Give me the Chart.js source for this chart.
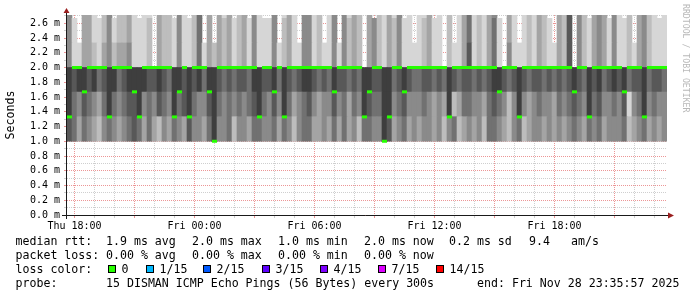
<!DOCTYPE html>
<html>
<head>
<meta charset="utf-8">
<title>smokeping</title>
<script src="https://cdn.jsdelivr.net/npm/chart.js@4/dist/chart.umd.min.js"></script>
<style>
  html, body { margin: 0; padding: 0; background: #fff; }
  #wrap { position: relative; width: 697px; height: 297px; overflow: hidden; }
  #chart { position: absolute; left: 0; top: 0; }
  .txt { position: absolute; font: 11.6px 'DejaVu Sans Mono', monospace; line-height: 14px; white-space: pre; color: #000; }
  .box { position: absolute; width: 8px; height: 8px; box-sizing: border-box; border: 1px solid #000; }
  #credit { position: absolute; left: 681px; top: 4px; writing-mode: vertical-rl; font: 8.2px 'DejaVu Sans Mono', monospace; line-height: 10px; color: #b8b8b8; white-space: pre; }
</style>
</head>
<body>
<div id="wrap">
  <canvas id="chart" width="697" height="297"></canvas>
  <div id="credit">RRDTOOL / TOBI OETIKER</div>
  <div id="legend"></div>
</div>
<script>
// 15 min slots, first slot centred on Thu 17:45
const days = ['Thu', 'Fri']
const firstSlotMinute = 17 * 60 + 45
const slotMinutes = 15

// rtt bands in ms, pings come in thirds of a ms
const bandEdges = [1.0, 1.333, 1.667, 2.0, 2.333, 2.667, 3.0]

// smoke depth per slot (0 = no ping there, 7 = innermost pair), 10 slots per string
const smoke10 = ['6535432454', '3456535324', '3543644357', '4452443554', '4535424553', '3435353425',
  '5447634534', '3443424523', '4342554324', '5234434343', '4543545344', '4523453434']
const smoke13 = ['7546543575', '4566745465', '4756754467', '5454545675', '4647534564', '3446453547',
  '6557745644', '4543437235', '5443565424', '7434544354', '5654756445', '4614574544']
const smoke17 = ['7677675677', '5677776676', '5776767577', '6565665776', '6757656776', '5657665657',
  '7667756765', '5665657656', '6565677656', '7656656565', '6765767567', '6756675665']
const smoke20 = ['4113321342', '3341112032', '2141125132', '3231231411', '1412311441', '2114142320',
  '3421324111', '1231102113', '6121351041', '1121321132', '6042134314', '1121342111']
const smoke23 = ['4103311241', '2231112032', '2141125030', '3231231411', '1402310441', '2014042320',
  '3421324110', '1231102013', '5121351031', '0121321032', '6042134314', '1120342111']
const smoke27 = ['4003310240', '2231011032', '2041025030', '3130230410', '0401310441', '2014041320',
  '3021314010', '1130102013', '5121340031', '0121320032', '6042034304', '1020342101']

// median rtt per slot (ms)
const median = [
  1.33, 2, 2, 1.67, 2, 2, 2, 2, 1.33, 2,
  2, 2, 2, 1.67, 1.33, 2, 2, 2, 2, 2,
  2, 1.33, 1.67, 2, 1.33, 2, 2, 2, 1.67, 1,
  2, 2, 2, 2, 2, 2, 2, 2, 1.33, 2,
  2, 1.67, 2, 1.33, 2, 2, 2, 2, 2, 2,
  2, 2, 2, 1.67, 2, 2, 2, 2, 2, 1.33,
  1.67, 2, 2, 1, 1.33, 2, 2, 1.67, 2, 2,
  2, 2, 2, 2, 2, 2, 1.33, 2, 2, 2,
  2, 2, 2, 2, 2, 2, 1.67, 2, 2, 2,
  1.33, 2, 2, 2, 2, 2, 2, 2, 2, 2,
  2, 1.67, 2, 2, 1.33, 2, 2, 2, 2, 2,
  2, 1.67, 2, 2, 2, 1.33, 2, 2, 2, 2,
]

const yTop = 2.7
const yStep = 0.1

const medianStats = ['1.9 ms avg', '2.0 ms max', '1.0 ms min', '2.0 ms now', '0.2 ms sd', '9.4', 'am/s']
const lossStats = ['0.00 % avg', '0.00 % max', '0.00 % min', '0.00 % now']
const lossLabels = ['0', '1/15', '2/15', '3/15', '4/15', '7/15', '14/15']
const lossColors = ['#26ff00', '#00b8ff', '#0059ff', '#5e00ff', '#7e00ff', '#dd00ff', '#ff0000']
const probeText = '15 DISMAN ICMP Echo Pings (56 Bytes) every 300s'
const endText = 'end: Fri Nov 28 23:35:57 2025'

// layout
const statX = [106, 192, 278, 364, 449, 529, 571]
const swatchX = [108, 146, 203, 262, 320, 378, 436]
const mono = 'DejaVu Sans Mono'
const grays = [255, 214, 189, 164, 138, 113, 88, 62]
const minorGrid = 'rgba(191,191,191,0.75)'
const majorGrid = 'rgba(230,115,115,0.75)'

const slotMinute = i => firstSlotMinute + i * slotMinutes

const labels = median.map((_, i) => {
  const m = slotMinute(i)
  const hh = String(Math.floor(m / 60) % 24).padStart(2, '0')
  const mm = String(m % 60).padStart(2, '0')
  return `${days[Math.floor(m / 1440)]} ${hh}:${mm}`
})

const smokeSets = [smoke10, smoke13, smoke17, smoke20, smoke23, smoke27].map((band, b) => {
  const depth = band.join('').split('').map(Number)
  return {
    type: 'bar',
    data: depth.map(d => (d > 0 ? [bandEdges[b], bandEdges[b + 1]] : null)),
    backgroundColor: depth.map(d => `rgb(${grays[d]},${grays[d]},${grays[d]})`),
    grouped: false,
    barPercentage: 1,
    categoryPercentage: 1,
    borderWidth: 0,
    clip: 0,
  }
})

const medianSet = {
  type: 'line',
  data: median,
  showLine: false,
  pointStyle: 'line',
  pointRadius: 2.5,
  pointHoverRadius: 2.5,
  pointBorderWidth: 3,
  pointBorderColor: lossColors[0],
  pointBackgroundColor: lossColors[0],
  clip: 0,
}

const axisArrows = {
  id: 'axisArrows',
  afterDraw(chart) {
    const { ctx, chartArea: a } = chart
    ctx.save()
    ctx.strokeStyle = '#1a1a1a'
    ctx.lineWidth = 1
    ctx.beginPath()
    ctx.moveTo(a.left - 5, a.bottom + 0.5)
    ctx.lineTo(a.right + 2, a.bottom + 0.5)
    ctx.moveTo(a.left - 0.5, a.bottom + 4)
    ctx.lineTo(a.left - 0.5, a.top - 2)
    ctx.stroke()
    ctx.fillStyle = '#9a1f1f'
    ctx.beginPath()
    ctx.moveTo(a.right + 7, a.bottom + 0.5)
    ctx.lineTo(a.right + 1, a.bottom - 2.5)
    ctx.lineTo(a.right + 1, a.bottom + 3.5)
    ctx.closePath()
    ctx.moveTo(a.left - 0.5, a.top - 7)
    ctx.lineTo(a.left - 3.5, a.top - 2)
    ctx.lineTo(a.left + 2.5, a.top - 2)
    ctx.closePath()
    ctx.fill()
    ctx.restore()
  },
}

Chart.defaults.font.family = mono

new Chart(document.getElementById('chart'), {
  type: 'bar',
  data: { labels, datasets: [medianSet, ...smokeSets] },
  options: {
    responsive: false,
    animation: false,
    devicePixelRatio: 1,
    events: [],
    layout: { padding: { top: 15, right: 30, left: 0, bottom: 0 } },
    plugins: { legend: { display: false }, tooltip: { enabled: false } },
    scales: {
      x: {
        type: 'category',
        offset: true,
        z: 1,
        grid: {
          offset: false,
          tickLength: 3,
          color: c => (slotMinute(c.tick.value) % 180 === 0 ? majorGrid : minorGrid),
        },
        border: { display: false, dash: [1, 1] },
        ticks: {
          autoSkip: false,
          maxRotation: 0,
          padding: 2,
          color: '#000',
          font: { family: mono, size: 10 },
          callback: v => (slotMinute(v) % 360 === 0 ? labels[v] : ''),
        },
        afterBuildTicks: s => { s.ticks = s.ticks.filter(t => slotMinute(t.value) % 60 === 0) },
        afterFit: s => { s.height = 82 },
      },
      y: {
        min: 0,
        max: 2.712,
        z: 1,
        grid: {
          tickLength: 3,
          color: c => (Math.round(c.tick.value * 10) % 2 === 0 ? majorGrid : minorGrid),
        },
        border: { display: false, dash: [1, 1] },
        ticks: {
          autoSkip: false,
          padding: 4,
          color: '#000',
          font: { family: mono, size: 10 },
          callback: v => (Math.round(v * 10) % 2 === 0 ? v.toFixed(1) + ' m' : ''),
        },
        afterBuildTicks: s => {
          const ticks = []
          for (let k = 0; k * yStep <= yTop + 1e-9; k++) ticks.push({ value: Math.round(k * yStep * 10) / 10 })
          s.ticks = ticks
        },
        title: {
          display: true,
          text: 'Seconds',
          color: '#000',
          font: { family: mono, size: 11.6 },
          padding: { top: 4, bottom: 0 },
        },
        afterFit: s => { s.width = 67 },
      },
    },
  },
  plugins: [axisArrows],
})

// text legend under the graph
const legend = document.getElementById('legend')
function put(text, x, row) {
  const el = document.createElement('div')
  el.className = 'txt'
  el.style.left = x + 'px'
  el.style.top = (234 + row * 14) + 'px'
  el.textContent = text
  legend.appendChild(el)
}

put('median rtt:', 15.5, 0)
medianStats.forEach((t, i) => put(t, statX[i], 0))
put('packet loss:', 15.5, 1)
lossStats.forEach((t, i) => put(t, statX[i], 1))
put('loss color:', 15.5, 2)
lossLabels.forEach((t, i) => {
  const box = document.createElement('div')
  box.className = 'box'
  box.style.left = swatchX[i] + 'px'
  box.style.top = '265px'
  box.style.background = lossColors[i]
  legend.appendChild(box)
  put(t, swatchX[i] + 13.5, 2)
})
put('probe:', 15.5, 3)
put(probeText, 106, 3)
put(endText, 477, 3)
</script>
</body>
</html>
